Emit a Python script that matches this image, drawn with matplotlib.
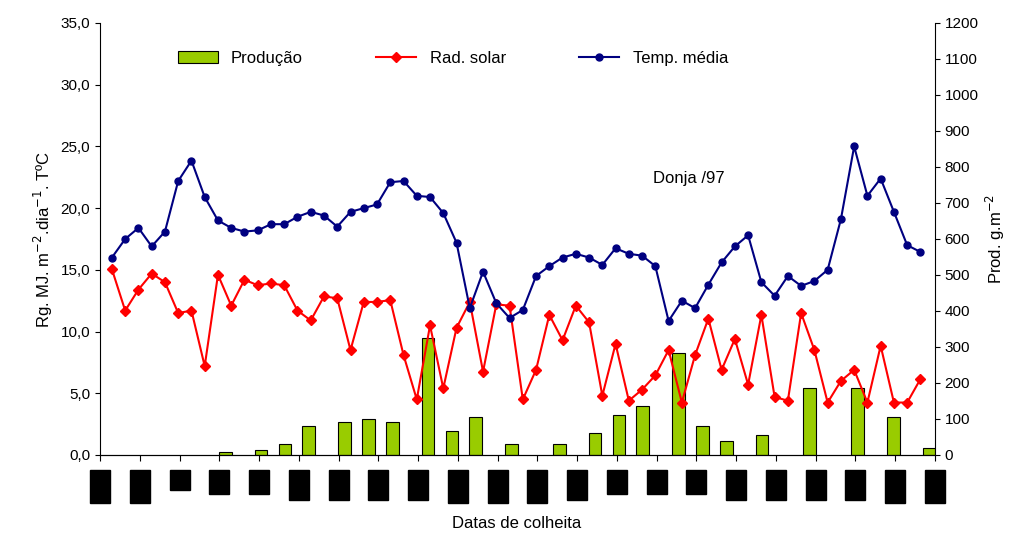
import matplotlib.pyplot as plt
from matplotlib.patches import Rectangle

plt.rcParams['font.family'] = ['Liberation Sans', 'DejaVu Sans']
plt.rcParams['font.size'] = 11

temp = [16.0, 17.5, 18.4, 16.9, 18.1, 22.2, 23.85, 20.9, 19.0, 18.4, 18.1, 18.2, 18.7, 18.7,
        19.3, 19.7, 19.4, 18.5, 19.7, 20.0, 20.3, 22.1, 22.2, 21.0, 20.9, 19.6, 17.2, 11.9,
        14.85, 12.3, 11.1, 11.75, 14.5, 15.3, 16.0, 16.3, 16.0, 15.4, 16.75, 16.3, 16.15, 15.3,
        10.86, 12.5, 11.9, 13.8, 15.6, 16.9, 17.8, 14.0, 12.9, 14.5, 13.7, 14.1, 15.0, 19.1,
        25.0, 21.0, 22.4, 19.7, 17.0, 16.45]
rad = [15.05, 11.7, 13.4, 14.7, 14.0, 11.5, 11.7, 7.2, 14.6, 12.1, 14.2, 13.75, 13.9, 13.75,
       11.7, 10.9, 12.85, 12.7, 8.5, 12.4, 12.4, 12.55, 8.1, 4.5, 10.5, 5.4, 10.3, 12.4,
       6.75, 12.2, 12.1, 4.5, 6.9, 11.35, 9.3, 12.1, 10.75, 4.8, 9.0, 4.4, 5.3, 6.45,
       8.5, 4.25, 8.1, 11.05, 6.9, 9.4, 5.7, 11.35, 4.7, 4.4, 11.5, 8.5, 4.25, 6.0,
       6.9, 4.25, 8.85, 4.25, 4.25, 6.15]
bar_slot = [10, 13, 15, 17, 20, 22, 24, 27, 29, 31, 34, 38, 41, 43, 45, 48, 50, 52, 55, 59, 63, 66, 69]
producao = [9, 14, 30, 80, 91, 101, 91, 324, 66, 106, 30, 30, 60, 111, 136, 284, 80, 40, 56,
            187, 187, 106, 19]
# heights of the hidden date labels (bottom edge in px)
label_bottom = [503, 503, 490, 494, 494, 500, 500, 500, 500, 503, 503,
                503, 500, 494, 494, 494, 500, 500, 500, 500, 503, 503]

fig = plt.figure(figsize=(10.26, 5.4), dpi=100)
pos = [100 / 1026, 85 / 540, 835 / 1026, 432 / 540]

ax2 = fig.add_axes(pos)
ax2.bar([s + 0.5 for s in bar_slot], producao, width=1.05, color='#99CC00',
        edgecolor='black', linewidth=0.8, label='Produção')
ax2.set_xlim(0, 70)
ax2.set_ylim(0, 1200)
ax2.set_yticks(range(0, 1201, 100))
ax2.yaxis.tick_right()
ax2.yaxis.set_label_position('right')
ax2.set_ylabel('Prod. g.m$^{-2}$', fontsize=12)
ax2.set_xticks([])
for s in ['top', 'left']:
    ax2.spines[s].set_visible(False)

ax = fig.add_axes(pos)
ax.patch.set_visible(False)
x = list(range(len(temp)))
ax.plot(x, rad, color='red', marker='D', markersize=5, linewidth=1.5, label='Rad. solar')
ax.plot(x, temp, color='#000080', marker='o', markersize=5, linewidth=1.5, label='Temp. média')
ax.set_xlim(-0.9, 62.1)
ax.set_ylim(0, 35)
ax.set_yticks([i * 5 for i in range(8)])
ax.set_yticklabels([f'{i * 5:.1f}'.replace('.', ',') for i in range(8)])
ticks = [-0.9 + 3 * j for j in range(22)]
ax.set_xticks(ticks)
ax.set_xticklabels([])
ax.tick_params(axis='x', length=4)
ax.set_ylabel('Rg. MJ. m$^{-2}$.dia$^{-1}$. TºC', fontsize=12)
for s in ['top', 'right']:
    ax.spines[s].set_visible(False)

for t, b in zip(ticks, label_bottom):
    xf = 100 + (t + 0.9) / 63 * 835
    fig.patches.append(Rectangle(((xf - 10) / 1026, (540 - b) / 540), 20 / 1026, (b - 470) / 540,
                                 transform=fig.transFigure, color='black'))

ax.text(0.705, 0.63, 'Donja /97', transform=ax.transAxes, fontsize=12, ha='center')
fig.text(517 / 1026, 12 / 540, 'Datas de colheita', ha='center', fontsize=12)

h1, l1 = ax2.get_legend_handles_labels()
h2, l2 = ax.get_legend_handles_labels()
ax.legend(h1 + h2, l1 + l2, ncol=3, frameon=False, loc='upper left',
          bbox_to_anchor=(0.075, 0.97), fontsize=12, columnspacing=4.4, handlelength=2.4)

fig.savefig('out.png')
